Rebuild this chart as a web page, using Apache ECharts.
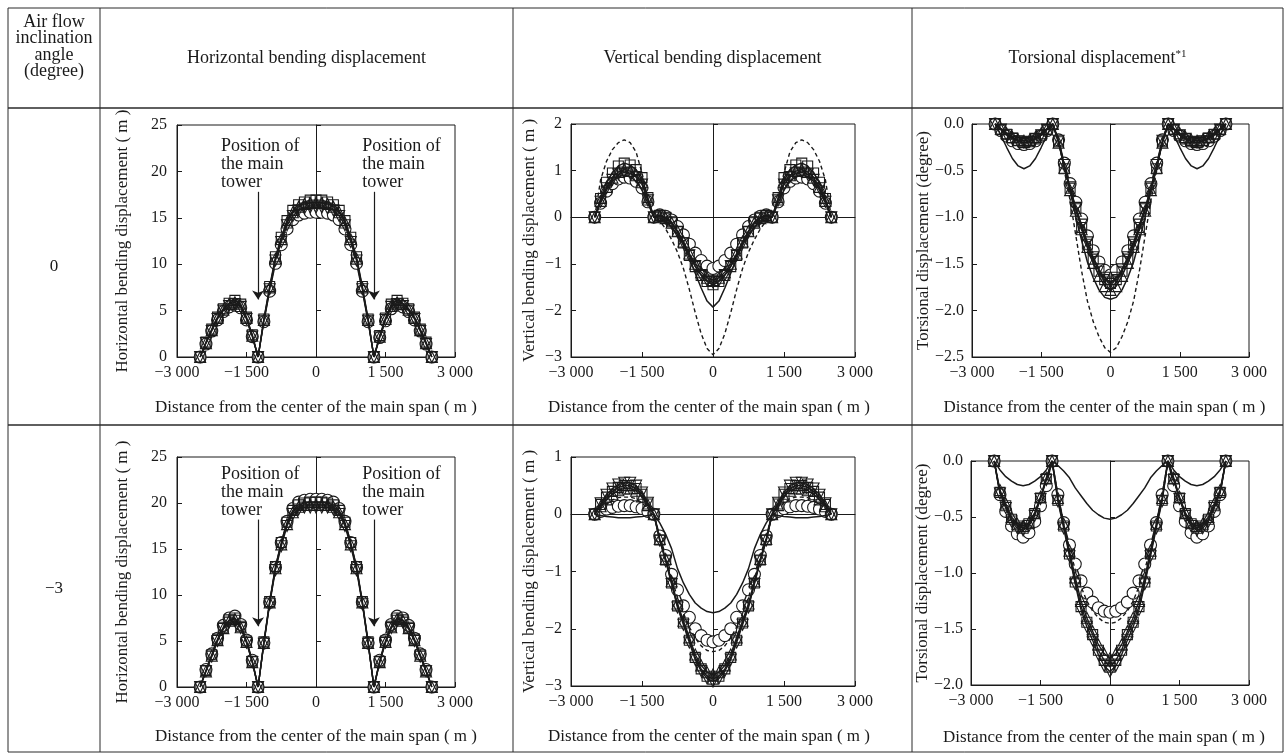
<!DOCTYPE html>
<html>
<head>
<meta charset="utf-8">
<script src="https://cdn.jsdelivr.net/npm/echarts@6/dist/echarts.min.js"></script>
<style>
  html, body { margin: 0; padding: 0; background: #ffffff; }
  #chart { width: 1288px; height: 754px; }
</style>
</head>
<body>
<div id="chart"></div>
<script>
// Distance of each station from the centre of the main span (m)
const DIST = [-2500,-2375,-2250,-2125,-2000,-1875,-1750,-1625,-1500,-1375,-1250,-1125,-1000,-875,-750,-625,-500,-375,-250,-125,0,125,250,375,500,625,750,875,1000,1125,1250,1375,1500,1625,1750,1875,2000,2125,2250,2375,2500];
// Main tower positions (m)
const TOWERS = [-1250, 1250];
// Left edge of the "Position of the main tower" notes (m)
const NOTE_X = [-2050, 1000];

const X_TICKS = { min: -3000, max: 3000, step: 1500 };

// ---- Air flow inclination 0 degree ----
// Horizontal bending displacement (m)
const H0_circle = [0,1.4,2.8,4.0,4.9,5.4,5.6,5.3,4.0,2.2,0, 3.8,7.1,10.1,12.1,13.8,14.8,15.3,15.5,15.6, 15.6, 15.6,15.5,15.3,14.8,13.8,12.1,10.1,7.1,3.8, 0, 2.1,3.9,5.2,5.6,5.4,4.9,4.0,2.8,1.4,0];
const H0_square = [0,1.6,3.0,4.3,5.2,5.8,6.1,5.7,4.3,2.4,0, 4.1,7.6,10.8,12.9,14.7,15.8,16.4,16.7,16.9, 16.9, 16.9,16.7,16.4,15.8,14.7,12.9,10.8,7.6,4.1, 0, 2.3,4.2,5.7,6.1,5.8,5.2,4.3,3.0,1.6,0];
const H0_triUp  = [0,1.5,2.9,4.2,5.1,5.7,5.9,5.5,4.2,2.3,0, 4.0,7.5,10.6,12.7,14.5,15.6,16.2,16.5,16.6, 16.6, 16.6,16.5,16.2,15.6,14.5,12.7,10.6,7.5,4.0, 0, 2.2,4.1,5.5,5.9,5.7,5.1,4.2,2.9,1.5,0];
const H0_triDn  = [0,1.5,2.8,4.1,5.0,5.5,5.7,5.4,4.1,2.2,0, 3.9,7.3,10.4,12.4,14.2,15.2,15.8,16.0,16.1, 16.1, 16.1,16.0,15.8,15.2,14.2,12.4,10.4,7.3,3.9, 0, 2.1,4.0,5.4,5.7,5.5,5.0,4.1,2.8,1.4,0];

// Vertical bending displacement (m)
const V0_circle = [0,0.3,0.56,0.72,0.82,0.86,0.84,0.77,0.63,0.33,0, 0.05,0.02,-0.06,-0.2,-0.38,-0.58,-0.77,-0.93,-1.05, -1.1, -1.05,-0.93,-0.77,-0.58,-0.38,-0.2,-0.06,0.02,0.05, 0, 0.33,0.63,0.77,0.84,0.86,0.82,0.72,0.56,0.3,0];
const V0_square = [0,0.4,0.75,0.95,1.1,1.16,1.12,1.02,0.85,0.42,0, 0.04,0.0,-0.1,-0.3,-0.55,-0.82,-1.06,-1.25,-1.38, -1.45, -1.38,-1.25,-1.06,-0.82,-0.55,-0.3,-0.1,0.0,0.04, 0, 0.42,0.85,1.02,1.12,1.16,1.1,0.95,0.75,0.4,0];
const V0_triUp  = [0,0.35,0.65,0.85,0.97,1.02,0.99,0.9,0.75,0.38,0, 0.03,-0.02,-0.12,-0.3,-0.52,-0.78,-1.0,-1.18,-1.3, -1.35, -1.3,-1.18,-1.0,-0.78,-0.52,-0.3,-0.12,-0.02,0.03, 0, 0.38,0.75,0.9,0.99,1.02,0.97,0.85,0.65,0.35,0];
const V0_triDn  = [0,0.33,0.62,0.8,0.92,0.96,0.94,0.86,0.7,0.36,0, 0.02,-0.03,-0.13,-0.32,-0.56,-0.82,-1.05,-1.24,-1.36, -1.4, -1.36,-1.24,-1.05,-0.82,-0.56,-0.32,-0.13,-0.03,0.02, 0, 0.36,0.7,0.86,0.94,0.96,0.92,0.8,0.62,0.33,0];
const V0_solid  = [0,0.3,0.58,0.77,0.87,0.9,0.87,0.77,0.58,0.3,0, -0.02,-0.08,-0.2,-0.38,-0.6,-0.88,-1.2,-1.52,-1.8, -1.93, -1.8,-1.52,-1.2,-0.88,-0.6,-0.38,-0.2,-0.08,-0.02, 0, 0.3,0.58,0.77,0.87,0.9,0.87,0.77,0.58,0.3,0];
const V0_dashed = [0,0.8,1.2,1.45,1.6,1.66,1.6,1.4,0.95,0.4,0, -0.08,-0.25,-0.48,-0.75,-1.1,-1.55,-2.05,-2.5,-2.82, -2.95, -2.82,-2.5,-2.05,-1.55,-1.1,-0.75,-0.48,-0.25,-0.08, 0, 0.4,0.95,1.4,1.6,1.66,1.6,1.45,1.2,0.8,0];

// Torsional displacement (degree)
const T0_circle = [0,-0.07,-0.13,-0.18,-0.21,-0.22,-0.21,-0.18,-0.13,-0.07,0, -0.17,-0.42,-0.64,-0.84,-1.02,-1.2,-1.36,-1.48,-1.57, -1.62, -1.57,-1.48,-1.36,-1.2,-1.02,-0.84,-0.64,-0.42,-0.17, 0, -0.07,-0.13,-0.18,-0.21,-0.22,-0.21,-0.18,-0.13,-0.07,0];
const T0_square = [0,-0.06,-0.11,-0.15,-0.18,-0.2,-0.19,-0.16,-0.12,-0.06,0, -0.19,-0.48,-0.69,-0.91,-1.11,-1.29,-1.45,-1.58,-1.67, -1.71, -1.67,-1.58,-1.45,-1.29,-1.11,-0.91,-0.69,-0.48,-0.19, 0, -0.06,-0.12,-0.16,-0.19,-0.2,-0.18,-0.15,-0.11,-0.06,0];
const T0_triUp  = [0,-0.05,-0.1,-0.14,-0.17,-0.18,-0.17,-0.14,-0.1,-0.05,0, -0.2,-0.47,-0.71,-0.93,-1.13,-1.32,-1.49,-1.63,-1.74, -1.78, -1.74,-1.63,-1.49,-1.32,-1.13,-0.93,-0.71,-0.47,-0.2, 0, -0.05,-0.1,-0.14,-0.17,-0.18,-0.17,-0.14,-0.1,-0.05,0];
const T0_triDn  = [0,-0.06,-0.12,-0.16,-0.19,-0.2,-0.19,-0.16,-0.12,-0.06,0, -0.18,-0.44,-0.68,-0.9,-1.08,-1.27,-1.43,-1.56,-1.65, -1.7, -1.65,-1.56,-1.43,-1.27,-1.08,-0.9,-0.68,-0.44,-0.18, 0, -0.06,-0.12,-0.16,-0.19,-0.2,-0.19,-0.16,-0.12,-0.06,0];
const T0_solid  = [0,-0.12,-0.25,-0.37,-0.45,-0.48,-0.45,-0.37,-0.25,-0.12,0, -0.2,-0.45,-0.72,-1.0,-1.25,-1.48,-1.65,-1.78,-1.86, -1.88, -1.86,-1.78,-1.65,-1.48,-1.25,-1.0,-0.72,-0.45,-0.2, 0, -0.12,-0.25,-0.37,-0.45,-0.48,-0.45,-0.37,-0.25,-0.12,0];
const T0_dashed = [0,-0.05,-0.1,-0.13,-0.15,-0.16,-0.15,-0.13,-0.1,-0.05,0, -0.15,-0.5,-0.82,-1.2,-1.58,-1.9,-2.12,-2.28,-2.4, -2.45, -2.4,-2.28,-2.12,-1.9,-1.58,-1.2,-0.82,-0.5,-0.15, 0, -0.05,-0.1,-0.13,-0.15,-0.16,-0.15,-0.13,-0.1,-0.05,0];

// ---- Air flow inclination -3 degree ----
const H3_circle = [0,1.9,3.6,5.3,6.7,7.5,7.7,6.8,5.1,2.9,0, 4.8,9.2,13.0,15.7,18.0,19.4,20.1,20.3,20.4, 20.4, 20.4,20.3,20.1,19.4,18.0,15.7,13.0,9.2,4.8, 0, 2.9,5.1,6.8,7.7,7.5,6.7,5.3,3.6,1.9,0];
const H3_square = [0,1.8,3.5,5.2,6.5,7.3,7.5,6.6,5.0,2.8,0, 4.9,9.3,13.1,15.7,17.9,19.2,19.8,20.0,20.1, 20.1, 20.1,20.0,19.8,19.2,17.9,15.7,13.1,9.3,4.9, 0, 2.8,5.0,6.6,7.5,7.3,6.5,5.2,3.5,1.8,0];
const H3_triUp  = [0,1.7,3.4,5.1,6.4,7.2,7.4,6.5,4.9,2.7,0, 4.8,9.2,12.9,15.5,17.7,19.0,19.6,19.8,19.8, 19.8, 19.8,19.8,19.6,19.0,17.7,15.5,12.9,9.2,4.8, 0, 2.7,4.9,6.5,7.4,7.2,6.4,5.1,3.4,1.7,0];
const H3_triDn  = [0,1.7,3.3,5.0,6.3,7.0,7.2,6.4,4.8,2.7,0, 4.7,9.0,12.7,15.3,17.5,18.8,19.3,19.5,19.5, 19.5, 19.5,19.5,19.3,18.8,17.5,15.3,12.7,9.0,4.7, 0, 2.7,4.8,6.4,7.2,7.0,6.3,5.0,3.3,1.7,0];

const V3_circle = [0,0.05,0.09,0.12,0.14,0.15,0.15,0.13,0.1,0.05,0, -0.38,-0.72,-1.05,-1.32,-1.6,-1.8,-2.0,-2.12,-2.2, -2.23, -2.2,-2.12,-2.0,-1.8,-1.6,-1.32,-1.05,-0.72,-0.38, 0, 0.05,0.1,0.13,0.15,0.15,0.14,0.12,0.09,0.05,0];
const V3_square = [0,0.17,0.3,0.4,0.47,0.5,0.5,0.45,0.35,0.18,0, -0.45,-0.8,-1.2,-1.6,-1.9,-2.2,-2.5,-2.7,-2.83, -2.88, -2.83,-2.7,-2.5,-2.2,-1.9,-1.6,-1.2,-0.8,-0.45, 0, 0.18,0.35,0.45,0.5,0.5,0.47,0.4,0.3,0.17,0];
const V3_triUp  = [0,0.14,0.26,0.35,0.42,0.45,0.45,0.41,0.31,0.16,0, -0.43,-0.78,-1.17,-1.56,-1.86,-2.15,-2.45,-2.64,-2.76, -2.8, -2.76,-2.64,-2.45,-2.15,-1.86,-1.56,-1.17,-0.78,-0.43, 0, 0.16,0.31,0.41,0.45,0.45,0.42,0.35,0.26,0.14,0];
const V3_triDn  = [0,0.19,0.34,0.45,0.52,0.55,0.55,0.5,0.38,0.2,0, -0.46,-0.82,-1.22,-1.63,-1.93,-2.24,-2.54,-2.74,-2.87, -2.92, -2.87,-2.74,-2.54,-2.24,-1.93,-1.63,-1.22,-0.82,-0.46, 0, 0.2,0.38,0.5,0.55,0.55,0.52,0.45,0.34,0.19,0];
const V3_solid  = [0,-0.02,-0.04,-0.05,-0.06,-0.06,-0.06,-0.05,-0.04,-0.02,0, -0.15,-0.35,-0.6,-0.95,-1.2,-1.4,-1.55,-1.64,-1.7, -1.72, -1.7,-1.64,-1.55,-1.4,-1.2,-0.95,-0.6,-0.35,-0.15, 0, -0.02,-0.04,-0.05,-0.06,-0.06,-0.06,-0.05,-0.04,-0.02,0];
const V3_dashed = [0,0.1,0.18,0.25,0.29,0.3,0.3,0.27,0.2,0.1,0, -0.42,-0.78,-1.12,-1.45,-1.73,-1.97,-2.16,-2.3,-2.38, -2.4, -2.38,-2.3,-2.16,-1.97,-1.73,-1.45,-1.12,-0.78,-0.42, 0, 0.1,0.2,0.27,0.3,0.3,0.29,0.25,0.18,0.1,0];

const T3_circle = [0,-0.3,-0.45,-0.58,-0.65,-0.68,-0.64,-0.54,-0.4,-0.22,0, -0.3,-0.55,-0.75,-0.92,-1.07,-1.18,-1.26,-1.31,-1.34, -1.35, -1.34,-1.31,-1.26,-1.18,-1.07,-0.92,-0.75,-0.55,-0.3, 0, -0.22,-0.4,-0.54,-0.64,-0.68,-0.65,-0.58,-0.45,-0.3,0];
const T3_square = [0,-0.28,-0.4,-0.52,-0.58,-0.6,-0.56,-0.47,-0.33,-0.16,0, -0.35,-0.58,-0.83,-1.08,-1.3,-1.44,-1.55,-1.69,-1.78, -1.84, -1.78,-1.69,-1.55,-1.44,-1.3,-1.08,-0.83,-0.58,-0.35, 0, -0.16,-0.33,-0.47,-0.56,-0.6,-0.58,-0.52,-0.4,-0.28,0];
const T3_triUp  = [0,-0.26,-0.38,-0.5,-0.56,-0.58,-0.55,-0.46,-0.32,-0.15,0, -0.33,-0.56,-0.8,-1.04,-1.25,-1.4,-1.52,-1.64,-1.72, -1.76, -1.72,-1.64,-1.52,-1.4,-1.25,-1.04,-0.8,-0.56,-0.33, 0, -0.15,-0.32,-0.46,-0.55,-0.58,-0.56,-0.5,-0.38,-0.26,0];
const T3_triDn  = [0,-0.29,-0.42,-0.54,-0.6,-0.62,-0.58,-0.49,-0.34,-0.17,0, -0.36,-0.6,-0.85,-1.1,-1.33,-1.48,-1.6,-1.73,-1.83, -1.88, -1.83,-1.73,-1.6,-1.48,-1.33,-1.1,-0.85,-0.6,-0.36, 0, -0.17,-0.34,-0.49,-0.58,-0.62,-0.6,-0.54,-0.42,-0.29,0];
const T3_solid  = [0,-0.08,-0.14,-0.18,-0.21,-0.22,-0.21,-0.18,-0.14,-0.08,0, -0.04,-0.09,-0.15,-0.24,-0.31,-0.38,-0.44,-0.48,-0.51, -0.52, -0.51,-0.48,-0.44,-0.38,-0.31,-0.24,-0.15,-0.09,-0.04, 0, -0.08,-0.14,-0.18,-0.21,-0.22,-0.21,-0.18,-0.14,-0.08,0];
const T3_dashed = [0,-0.27,-0.4,-0.51,-0.57,-0.59,-0.56,-0.47,-0.33,-0.16,0, -0.3,-0.56,-0.78,-0.97,-1.12,-1.25,-1.34,-1.4,-1.44, -1.45, -1.44,-1.4,-1.34,-1.25,-1.12,-0.97,-0.78,-0.56,-0.3, 0, -0.16,-0.33,-0.47,-0.56,-0.59,-0.57,-0.51,-0.4,-0.27,0];

// Table text
const COL_HEADERS = ['Horizontal bending displacement', 'Vertical bending displacement', 'Torsional displacement'];
const ROW_LABELS = ['0', '\u22123'];
const Y_NAMES = ['Horizontal bending displacement ( m )', 'Vertical bending displacement ( m )', 'Torsional displacement (degree)'];
const X_NAME = 'Distance from the center of the main span ( m )';

// ---------------------------------------------------------------
const FONT = '"Liberation Serif", "Times New Roman", serif';
const INK = '#1a1a1a';

const fmtX = v => {
  if (v === 0) return '0';
  const a = Math.abs(v);
  const s = a >= 1000 ? Math.floor(a / 1000) + ' ' + String(a % 1000).padStart(3, '0') : String(a);
  return (v < 0 ? '\u2212' : '') + s;
};
const fmtY = dec => v => {
  const a = Math.abs(v).toFixed(dec);
  return (v < -1e-9 ? '\u2212' : '') + a;
};

// layout of the six panels (px) and their axis settings
const PANELS = [
  { box: [177, 125, 278, 232], y: [0, 25, 5], dec: 0, yName: Y_NAMES[0], yGap: 46, yMargin: 10, xGap: 42, xShift: 0, zero: false,
    marks: [H0_circle, H0_square, H0_triUp, H0_triDn], solid: null, dash: null, arrow: [17.8, 6.2], noteTop: 23.7 },
  { box: [571, 124, 284, 233], y: [-3, 2, 1], dec: 0, yName: Y_NAMES[1], yGap: 33, yMargin: 9, xGap: 42, xShift: 4, zero: true,
    marks: [V0_circle, V0_square, V0_triUp, V0_triDn], solid: V0_solid, dash: V0_dashed },
  { box: [972, 124, 277, 233], y: [-2.5, 0, 0.5], dec: 1, yName: Y_NAMES[2], yGap: 40, yMargin: 8, xGap: 42, xShift: 6, zero: false,
    marks: [T0_circle, T0_square, T0_triUp, T0_triDn], solid: T0_solid, dash: T0_dashed },
  { box: [177, 457, 278, 230], y: [0, 25, 5], dec: 0, yName: Y_NAMES[0], yGap: 46, yMargin: 10, xGap: 41, xShift: 0, zero: false,
    marks: [H3_circle, H3_square, H3_triUp, H3_triDn], solid: null, dash: null, arrow: [18.2, 6.6], noteTop: 24.1 },
  { box: [571, 457, 284, 229], y: [-3, 1, 1], dec: 0, yName: Y_NAMES[1], yGap: 33, yMargin: 9, xGap: 42, xShift: 4, zero: true,
    marks: [V3_circle, V3_square, V3_triUp, V3_triDn], solid: V3_solid, dash: V3_dashed },
  { box: [971, 461, 278, 224], y: [-2, 0, 0.5], dec: 1, yName: Y_NAMES[2], yGap: 40, yMargin: 8, xGap: 44, xShift: 6, zero: false,
    marks: [T3_circle, T3_square, T3_triUp, T3_triDn], solid: T3_solid, dash: T3_dashed }
];

const SHAPES = [
  { symbol: 'circle',   size: 12, rotate: 0,   fill: '#ffffff' },
  { symbol: 'rect',     size: 10, rotate: 0,   fill: 'rgba(255,255,255,0)' },
  { symbol: 'triangle', size: 11, rotate: 0,   fill: 'rgba(255,255,255,0)' },
  { symbol: 'triangle', size: 11, rotate: 180, fill: 'rgba(255,255,255,0)' }
];

const pairs = vals => DIST.map((x, i) => [x, vals[i]]);

const grids = [], xAxes = [], yAxes = [], series = [];

PANELS.forEach((p, k) => {
  grids.push({ left: p.box[0], top: p.box[1], width: p.box[2], height: p.box[3],
    show: true, borderColor: INK, borderWidth: 1, backgroundColor: 'transparent' });

  const xi = xAxes.length;
  xAxes.push({
    gridIndex: k, type: 'value', min: X_TICKS.min, max: X_TICKS.max, interval: X_TICKS.step, position: 'bottom',
    axisLine: { onZero: false, lineStyle: { color: INK, width: 1 } },
    axisTick: { inside: true, length: 5, lineStyle: { color: INK } },
    axisLabel: { formatter: fmtX, color: INK, fontSize: 16, fontFamily: FONT, margin: 8 },
    splitLine: { show: false },
    name: X_NAME, nameLocation: 'middle', nameGap: p.xGap, nameMoveOverlap: false,
    nameTextStyle: { color: INK, fontSize: 17, fontFamily: FONT, padding: [0, 2 * p.xShift, 0, 0] }
  });
  if (p.zero) {
    // horizontal zero line across the plot
    xAxes.push({
      gridIndex: k, type: 'value', min: X_TICKS.min, max: X_TICKS.max, interval: X_TICKS.step, position: 'top',
      axisLine: { onZero: true, lineStyle: { color: INK, width: 1 } },
      axisTick: { show: false }, axisLabel: { show: false }, splitLine: { show: false }
    });
  }

  const yi = yAxes.length;
  yAxes.push({
    gridIndex: k, type: 'value', min: p.y[0], max: p.y[1], interval: p.y[2], position: 'left',
    axisLine: { onZero: false, lineStyle: { color: INK, width: 1 } },
    axisTick: { inside: true, length: 5, lineStyle: { color: INK } },
    axisLabel: { formatter: fmtY(p.dec), color: INK, fontSize: 16, fontFamily: FONT, margin: p.yMargin },
    splitLine: { show: false },
    name: p.yName, nameLocation: 'middle', nameGap: p.yGap, nameRotate: 90, nameMoveOverlap: false,
    nameTextStyle: { color: INK, fontSize: 17, fontFamily: FONT }
  });
  // centre line of the main span with its own ticks
  yAxes.push({
    gridIndex: k, type: 'value', min: p.y[0], max: p.y[1], interval: p.y[2], position: 'right',
    axisLine: { onZero: true, lineStyle: { color: INK, width: 1 } },
    axisTick: { inside: false, length: 5, lineStyle: { color: INK } },
    axisLabel: { show: false }, splitLine: { show: false }
  });
  p.xi = xi; p.yi = yi;

  p.marks.forEach((vals, m) => {
    const s = SHAPES[m];
    const ser = {
      type: 'line', xAxisIndex: xi, yAxisIndex: yi, data: pairs(vals),
      symbol: s.symbol, symbolSize: s.size, symbolRotate: s.rotate, showSymbol: true,
      itemStyle: { color: s.fill, borderColor: INK, borderWidth: 1.1 },
      lineStyle: { color: INK, width: 1.4 },
      clip: false, silent: true, animation: false, emphasis: { disabled: true }, z: 3 + m
    };
    if (m === 1 && p.arrow) {
      ser.markLine = {
        silent: true, animation: false, symbol: ['none', 'arrow'], symbolSize: 9,
        label: { show: false },
        lineStyle: { color: INK, width: 1.2, type: 'solid' },
        emphasis: { disabled: true },
        data: TOWERS.map(t => [{ coord: [t, p.arrow[0]] }, { coord: [t, p.arrow[1]] }])
      };
    }
    series.push(ser);
  });
  if (p.solid) {
    series.push({ type: 'line', xAxisIndex: xi, yAxisIndex: yi, data: pairs(p.solid), symbol: 'none',
      lineStyle: { color: INK, width: 1.5 }, silent: true, animation: false, clip: false, z: 8 });
  }
  if (p.dash) {
    series.push({ type: 'line', xAxisIndex: xi, yAxisIndex: yi, data: pairs(p.dash), symbol: 'none',
      lineStyle: { color: INK, width: 1.4, type: [4, 3] }, silent: true, animation: false, clip: false, z: 8 });
  }
});

const chart = echarts.init(document.getElementById('chart'));
chart.setOption({
  animation: false,
  backgroundColor: '#ffffff',
  textStyle: { fontFamily: FONT },
  grid: grids, xAxis: xAxes, yAxis: yAxes, series: series
});

// ---- table frame, headings and notes ----
const T = { l: 8, r: 1283, t: 8, b: 752, head: 108, mid: 425, c1: 100, c2: 513, c3: 912 };
const line = (x1, y1, x2, y2, w) => ({ type: 'line', silent: true,
  shape: { x1, y1, x2, y2 }, style: { stroke: '#2a2a2a', lineWidth: w || 1 } });
const text = (str, x, y, size, extra) => ({ type: 'text', silent: true,
  style: Object.assign({ text: str, x, y, fill: INK, fontSize: size, fontFamily: FONT,
    align: 'center', verticalAlign: 'middle' }, extra || {}) });

const gfx = [
  line(T.l, T.t, T.r, T.t), line(T.l, T.b, T.r, T.b),
  line(T.l, T.t, T.l, T.b), line(T.r, T.t, T.r, T.b),
  line(T.c1, T.t, T.c1, T.b), line(T.c2, T.t, T.c2, T.b), line(T.c3, T.t, T.c3, T.b),
  line(T.l, T.head, T.r, T.head, 1.5), line(T.l, T.mid, T.r, T.mid, 1.5),
  text('Air flow\ninclination\nangle\n(degree)', (T.l + T.c1) / 2, 47, 18, { lineHeight: 16.5 }),
  text(COL_HEADERS[0], (T.c1 + T.c2) / 2, 58, 18),
  text(COL_HEADERS[1], (T.c2 + T.c3) / 2, 58, 18),
  text(COL_HEADERS[2] + '{s|*1}', (T.c3 + T.r) / 2, 58, 18,
    { rich: { s: { fontSize: 11, fontFamily: FONT, fill: INK, verticalAlign: 'top', lineHeight: 18 } } }),
  text(ROW_LABELS[0], (T.l + T.c1) / 2, (T.head + T.mid) / 2, 17),
  text(ROW_LABELS[1], (T.l + T.c1) / 2, (T.mid + T.b) / 2, 17)
];

PANELS.forEach(p => {
  if (p.noteTop == null) return;
  NOTE_X.forEach(xv => {
    const pt = chart.convertToPixel({ xAxisIndex: p.xi, yAxisIndex: p.yi }, [xv, p.noteTop]);
    gfx.push(text('Position of\nthe main\ntower', pt[0], pt[1], 18,
      { align: 'left', verticalAlign: 'top', lineHeight: 18 }));
  });
});

chart.setOption({ graphic: gfx });
</script>
</body>
</html>
